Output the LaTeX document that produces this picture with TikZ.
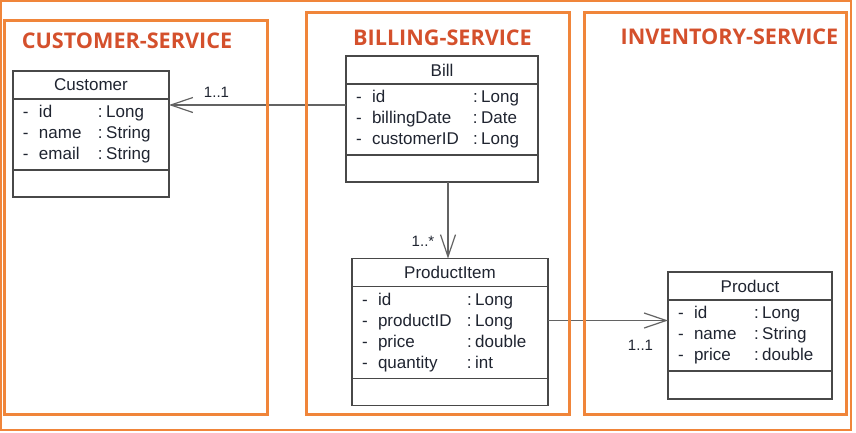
\documentclass[tikz,border=0pt]{standalone}
\usepackage{fontspec}
\setmainfont{Liberation Sans}
\newfontfamily\titlefont{Open Sans}
\usepackage{xcolor}
\usepackage{tikz}
\usetikzlibrary{arrows.meta,positioning,calc}
\definecolor{svcorange}{HTML}{F0853A}
\definecolor{svctitle}{HTML}{D4502C}
\definecolor{umlline}{HTML}{484848}
\definecolor{umltext}{HTML}{1F2430}
\newcommand{\attrlist}[2]{\begin{tabular}{@{}p{16pt}@{}p{#1}@{}l@{}}#2\end{tabular}}
\newcommand{\ty}[1]{:\hspace{3.5pt}#1}

\begin{document}
\begin{tikzpicture}[x=1pt, y=-1pt,
  service/.style={draw=svcorange, line width=3pt},
  svcname/.style={text=svctitle, font=\titlefont\bfseries\fontsize{21.6}{24}\selectfont, inner sep=0pt},
  header/.style={draw=umlline, line width=1.4pt, text=umltext, outer sep=0pt, minimum height=28pt, inner sep=0pt, font=\fontsize{17}{21}\selectfont},
  attrbox/.style={draw=umlline, line width=1.4pt, text=umltext, outer sep=0pt, inner xsep=10pt, align=left, font=\fontsize{17}{21}\selectfont},
  opsbox/.style={draw=umlline, line width=1.4pt, outer sep=0pt, minimum height=27pt},
  mult/.style={text=umltext, inner sep=0pt, font=\fontsize{15}{18}\selectfont},
  assoc/.style={-{Straight Barb[length=22pt,width=15pt]}, line width=1.2pt, draw=umlline!85}
]
\useasboundingbox (0,0) rectangle (856,432);

\node[header, minimum width=156pt] (cust) at (91,85) {Customer};
\node[attrbox, text width=136pt, minimum height=71pt, below=0pt of cust] (cust-attr)
  {\attrlist{59pt}{- & id & \ty{Long}\\ - & name & \ty{String}\\ - & email & \ty{String}}};
\node[opsbox, minimum width=156pt, below=0pt of cust-attr] (cust-ops) {};

\node[header, minimum width=192pt] (bill) at (442,70) {Bill};
\node[attrbox, text width=172pt, minimum height=71pt, below=0pt of bill] (bill-attr)
  {\attrlist{101pt}{- & id & \ty{Long}\\ - & billingDate & \ty{Date}\\ - & customerID & \ty{Long}}};
\node[opsbox, minimum width=192pt, below=0pt of bill-attr] (bill-ops) {};

\node[header, minimum width=196pt] (pitem) at (450,272.5) {ProductItem};
\node[attrbox, text width=176pt, minimum height=92pt, below=0pt of pitem] (pitem-attr)
  {\attrlist{89pt}{- & id & \ty{Long}\\ - & productID & \ty{Long}\\ - & price & \ty{double}\\ - & quantity & \ty{int}}};
\node[opsbox, minimum width=196pt, below=0pt of pitem-attr] (pitem-ops) {};

\node[header, minimum width=164pt] (prod) at (750,286) {Product};
\node[attrbox, text width=144pt, minimum height=71pt, below=0pt of prod] (prod-attr)
  {\attrlist{60pt}{- & id & \ty{Long}\\ - & name & \ty{String}\\ - & price & \ty{double}}};
\node[opsbox, minimum width=164pt, minimum height=28pt, below=0pt of prod-attr] (prod-ops) {};

\coordinate (bill-out) at ([yshift=-21pt]bill-attr.north west);
\coordinate (bill-down) at ([xshift=6pt]bill-ops.south);
\coordinate (pitem-out) at ([yshift=-34pt]pitem-attr.north east);
\draw[assoc] (bill-out) -- (cust-attr.east |- bill-out);
\draw[assoc] (bill-down) -- (bill-down |- pitem.north);
\draw[assoc] (pitem-out) -- (prod-attr.west |- pitem-out);

\node[mult] (m-cust) at (216.5,92) {1..1};
\node[mult] (m-pitem) at (423,241) {1..*};
\node[mult] (m-prod) at (640.5,345) {1..1};

\draw[svcorange, line width=2.5pt] (1,1) rectangle (851,430);
\node[service, minimum width=263pt, minimum height=394pt] (cust-svc) at (135.5,217) {};
\node[service, minimum width=263pt, minimum height=402pt] (bill-svc) at (437.5,213) {};
\node[service, minimum width=262pt, minimum height=402pt] (inv-svc) at (715,213) {};
\node[svcname] (cust-title) at (127,41) {CUSTOMER-SERVICE};
\node[svcname] (bill-title) at (442.5,37.5) {BILLING-SERVICE};
\node[svcname] (inv-title) at (729.5,37) {INVENTORY-SERVICE};
\end{tikzpicture}
\end{document}
